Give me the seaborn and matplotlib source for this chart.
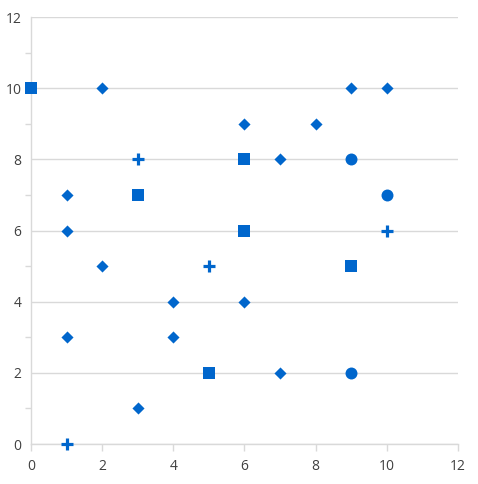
import matplotlib
matplotlib.use("Agg")
import matplotlib.pyplot as plt
import seaborn as sns
import pandas as pd
from matplotlib.ticker import MultipleLocator

sq_x = [0, 3, 6, 6, 9, 5]
sq_y = [10, 7, 8, 6, 5, 2]
di_x = [2, 9, 10, 6, 8, 7, 1, 1, 2, 4, 6, 1, 4, 7, 3]
di_y = [10, 10, 10, 9, 9, 8, 7, 6, 5, 4, 4, 3, 3, 2, 1]
pl_x = [3, 5, 10, 1]
pl_y = [8, 5, 6, 0]
ci_x = [9, 10, 9]
ci_y = [8, 7, 2]

tick_vals = [0, 2, 4, 6, 8, 10, 12]

color = "#0066CC"
sns.set_theme(style="white")
plt.rcParams['font.family'] = ['Open Sans', 'DejaVu Sans']

fig = plt.figure(figsize=(4.78, 4.84), dpi=100)
ax = fig.add_axes([0.0649, 0.0826, 0.893, 0.882])

df_sq = pd.DataFrame({"x": sq_x, "y": sq_y})
df_di = pd.DataFrame({"x": di_x, "y": di_y})
df_pl = pd.DataFrame({"x": pl_x, "y": pl_y})
df_ci = pd.DataFrame({"x": ci_x, "y": ci_y})

kw = dict(ax=ax, color=color, clip_on=False, zorder=3)
sns.scatterplot(data=df_sq, x="x", y="y", marker="s", s=64, linewidth=0, **kw)
sns.scatterplot(data=df_di, x="x", y="y", marker="D", s=38, linewidth=0, **kw)
sns.scatterplot(data=df_ci, x="x", y="y", marker="o", s=74, linewidth=0, **kw)
sns.scatterplot(data=df_pl, x="x", y="y", marker="+", s=64, linewidth=2.3, **kw)

ax.set_xlim(0, 12)
ax.set_ylim(0, 12)
ax.set_xticks(tick_vals)
ax.set_yticks(tick_vals)
ax.yaxis.set_minor_locator(MultipleLocator(1))
ax.set_xlabel("")
ax.set_ylabel("")

grid_c = "#d9d9d9"
ax.yaxis.grid(True, color=grid_c, linewidth=1)
ax.xaxis.grid(False)
ax.set_axisbelow(True)
for s in ["top", "right"]:
    ax.spines[s].set_visible(False)
for s in ["left", "bottom"]:
    ax.spines[s].set_color(grid_c)
    ax.spines[s].set_linewidth(1)

ax.tick_params(axis="x", which="major", length=5, width=1, color=grid_c,
               labelsize=10, labelcolor="#404040", pad=6, direction="out", bottom=True)
ax.tick_params(axis="y", which="major", length=0, labelsize=10, labelcolor="#404040", pad=7)
ax.tick_params(axis="y", which="minor", length=4, width=1, color=grid_c, left=True, direction="out")

fig.savefig("out.png", dpi=100)
